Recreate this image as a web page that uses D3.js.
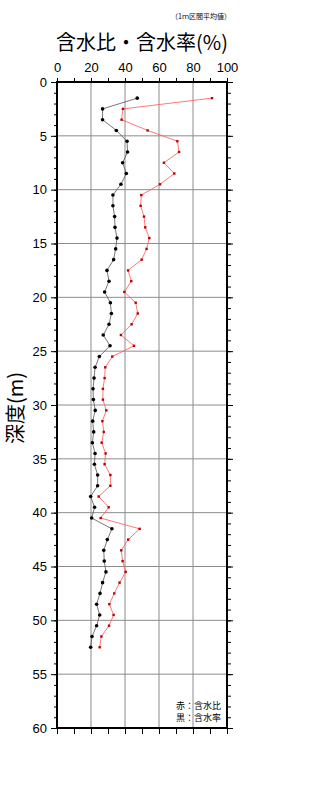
<!DOCTYPE html>
<html>
<head>
<meta charset="utf-8">
<script src="https://cdn.jsdelivr.net/npm/d3@7"></script>
<style>
  body { margin: 0; background: #fff; }
  text { font-family: "Liberation Sans", "Noto Sans CJK JP", sans-serif; }
  .jp { font-family: "Noto Sans CJK JP", sans-serif; }
</style>
</head>
<body>
<div id="chart"></div>
<script>
// depths (m), 1m interval averages
var depths = d3.range(1.5, 53, 1);
// 含水比 (red)
var hiValues = [91.2, 38.8, 38.0, 53.3, 70.8, 71.8, 62.9, 69.0, 60.6, 49.6,
  49.2, 51.2, 51.9, 54.3, 52.7, 49.8, 41.8, 43.7, 39.6, 46.3,
  47.5, 43.9, 37.6, 45.3, 32.5, 28.4, 28.0, 27.0, 27.0, 29.0,
  26.7, 27.5, 26.3, 28.6, 28.0, 31.4, 31.4, 24.5, 30.4, 25.7,
  48.6, 41.9, 37.8, 38.6, 40.4, 36.8, 33.7, 30.8, 33.3, 30.6,
  26.1, 25.1];
// 含水率 (black)
var ritsuValues = [47.2, 26.8, 26.8, 34.9, 41.2, 41.5, 38.6, 40.8, 37.6, 32.9,
  32.9, 33.9, 34.1, 35.3, 34.5, 33.3, 29.4, 30.6, 28.0, 31.4,
  32.0, 30.6, 27.2, 31.2, 24.9, 22.4, 21.8, 21.2, 21.4, 22.5,
  21.0, 21.6, 20.8, 22.4, 22.0, 23.9, 23.9, 19.8, 22.1, 20.4,
  32.3, 29.6, 27.5, 27.8, 28.8, 26.8, 25.3, 23.3, 25.1, 23.3,
  20.6, 19.8];
var xTicks = [0, 20, 40, 60, 80, 100];
var yTicks = d3.range(0, 61, 5);

var margin = {top: 82, right: 93, bottom: 72, left: 57},
  width = 320 - margin.left - margin.right,
  height = 800 - margin.top - margin.bottom;

var root = d3.select("#chart")
.append("svg")
  .attr("width", 320)
  .attr("height", 800);

var svg = root.append("g")
  .attr("transform", "translate(" + margin.left + "," + margin.top + ")");

var x = d3.scaleLinear().domain([0, 100]).range([0, width]);
var y = d3.scaleLinear().domain([0, 60]).range([0, height]);

// grid
svg.append("g")
  .selectAll("line")
  .data([20, 40, 60, 80])
  .enter().append("line")
  .attr("x1", d => x(d)).attr("x2", d => x(d))
  .attr("y1", 0).attr("y2", height)
  .attr("stroke", "#8c8c8c").attr("stroke-width", 1);
svg.append("g")
  .selectAll("line")
  .data(yTicks.slice(1, -1))
  .enter().append("line")
  .attr("x1", 0).attr("x2", width)
  .attr("y1", d => y(d)).attr("y2", d => y(d))
  .attr("stroke", "#8c8c8c").attr("stroke-width", 1);

// axes
svg.append("g")
  .call(d3.axisTop(x).tickValues(xTicks).tickSize(0).tickPadding(10).tickFormat(d3.format("d")));
svg.append("g")
  .call(d3.axisTop(x).ticks(10).tickSize(4).tickFormat(""));
svg.append("g")
  .attr("transform", "translate(0," + height + ")")
  .call(d3.axisBottom(x).ticks(10).tickSize(6).tickFormat(""));
svg.append("g")
  .call(d3.axisLeft(y).tickValues(yTicks).tickSize(6).tickPadding(4).tickFormat(d3.format("d")));
svg.append("g")
  .call(d3.axisLeft(y).tickValues(d3.range(0, 61, 1)).tickSize(3).tickFormat(""));
svg.append("g")
  .attr("transform", "translate(" + width + ",0)")
  .call(d3.axisRight(y).tickValues(d3.range(0, 61, 1)).tickSize(4).tickFormat(""));
svg.append("g")
  .attr("transform", "translate(" + width + ",0)")
  .call(d3.axisRight(y).tickValues(yTicks).tickSize(6).tickFormat(""));

svg.selectAll(".domain").remove();
svg.selectAll(".tick line").attr("stroke", "#000");
svg.selectAll(".tick text").style("font-size", "13px").attr("fill", "#000");

// frame
svg.append("rect")
  .attr("width", width).attr("height", height)
  .attr("fill", "none").attr("stroke", "#000").attr("stroke-width", 2);

// series
var line = d3.line().x(d => x(d[0])).y(d => y(d[1]));
var hiData = d3.zip(hiValues, depths);
var ritsuData = d3.zip(ritsuValues, depths);

svg.append("path")
  .datum(hiData)
  .attr("d", line)
  .attr("fill", "none").attr("stroke", "#f55").attr("stroke-width", 0.8);
svg.append("path")
  .datum(ritsuData)
  .attr("d", line)
  .attr("fill", "none").attr("stroke", "#555").attr("stroke-width", 0.8);

svg.selectAll(".mr")
  .data(hiData).enter().append("rect")
  .attr("x", d => x(d[0]) - 1.2).attr("y", d => y(d[1]) - 1.2)
  .attr("width", 2.4).attr("height", 2.4)
  .attr("fill", "#b00");
svg.selectAll(".mb")
  .data(ritsuData).enter().append("circle")
  .attr("cx", d => x(d[0])).attr("cy", d => y(d[1]))
  .attr("r", 1.8)
  .attr("fill", "#000");

// titles
root.append("text")
  .attr("class", "jp")
  .attr("x", 142).attr("y", 50)
  .style("text-anchor", "middle")
  .style("font-size", "20px")
  .text("含水比・含水率(%)");
root.append("text")
  .attr("class", "jp")
  .attr("x", 231).attr("y", 19)
  .style("text-anchor", "end")
  .style("font-size", "7px")
  .text("（1ｍ区間平均値）");
root.append("text")
  .attr("class", "jp")
  .attr("transform", "translate(23,408) rotate(-90)")
  .style("text-anchor", "middle")
  .style("font-size", "20px")
  .text("深度(m)");

// legend
root.append("text")
  .attr("class", "jp")
  .attr("x", 221).attr("y", 709)
  .style("text-anchor", "end")
  .style("font-size", "9px")
  .text("赤：含水比");
root.append("text")
  .attr("class", "jp")
  .attr("x", 221).attr("y", 721)
  .style("text-anchor", "end")
  .style("font-size", "9px")
  .text("黒：含水率");
</script>
</body>
</html>
